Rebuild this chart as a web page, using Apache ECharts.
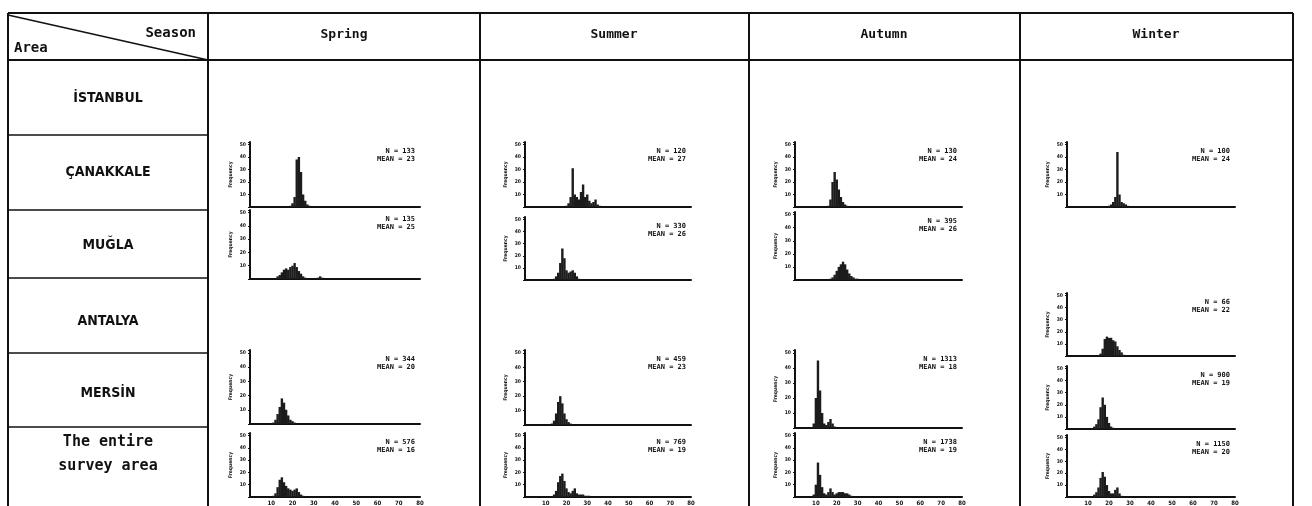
<!DOCTYPE html>
<html>
<head>
<meta charset="utf-8">
<script src="https://cdn.jsdelivr.net/npm/echarts@6/dist/echarts.min.js"></script>
<style>
  html, body { margin: 0; padding: 0; background: #fff; }
  #chart { width: 1312px; height: 506px; }
</style>
</head>
<body>
<div id="chart"></div>
<script>
// length classes (cm) shared by every histogram
const lengthBins = [8, 9, 10, 11, 12, 13, 14, 15, 16, 17, 18, 19, 20, 21, 22, 23, 24,
  25, 26, 27, 28, 29, 30, 31, 32, 33, 34, 35, 36, 37, 38, 39, 40];
const xTicks = [10, 20, 30, 40, 50, 60, 70, 80];
const yTicks = [10, 20, 30, 40, 50];

const seasons = ['Spring', 'Summer', 'Autumn', 'Winter'];
const areas = ['İSTANBUL', 'ÇANAKKALE', 'MUĞLA', 'ANTALYA', 'MERSİN', 'The entire\nsurvey area'];

// frequency (%) per length class
const springCanakkale = [0, 0, 0, 0, 0, 0, 0, 0, 0, 0, 0, 1, 3, 8, 38, 40, 28, 10, 5, 2, 1, 0, 0, 0, 0, 0, 0, 0, 0, 0, 0, 0, 0];
const springMugla = [0, 0, 0, 0, 0, 2, 3, 5, 7, 8, 7, 9, 10, 12, 9, 6, 4, 2, 1, 0, 0, 0, 0, 0, 1, 2, 1, 0, 0, 0, 0, 0, 0];
const springMersin = [0, 0, 0, 1, 3, 7, 12, 18, 15, 10, 6, 3, 2, 1, 0, 0, 0, 0, 0, 0, 0, 0, 0, 0, 0, 0, 0, 0, 0, 0, 0, 0, 0];
const springEntire = [0, 0, 0, 1, 3, 8, 14, 16, 12, 9, 7, 6, 5, 6, 7, 4, 2, 1, 0, 0, 0, 0, 0, 0, 0, 0, 0, 0, 0, 0, 0, 0, 0];

const summerCanakkale = [0, 0, 0, 0, 0, 0, 0, 0, 0, 0, 0, 0, 1, 3, 8, 31, 10, 8, 6, 12, 18, 8, 10, 5, 3, 4, 6, 2, 1, 0, 0, 0, 0];
const summerMugla = [0, 0, 0, 0, 0, 0, 1, 3, 6, 14, 26, 18, 8, 6, 7, 8, 6, 3, 1, 0, 0, 0, 0, 0, 0, 0, 0, 0, 0, 0, 0, 0, 0];
const summerMersin = [0, 0, 0, 0, 0, 1, 3, 8, 16, 20, 15, 8, 4, 2, 1, 0, 0, 0, 0, 0, 0, 0, 0, 0, 0, 0, 0, 0, 0, 0, 0, 0, 0];
const summerEntire = [0, 0, 0, 0, 0, 0, 2, 5, 12, 17, 19, 13, 7, 4, 3, 5, 7, 3, 2, 2, 2, 1, 1, 1, 0, 0, 0, 0, 0, 0, 0, 0, 0];

const autumnCanakkale = [0, 0, 0, 0, 0, 0, 0, 0, 1, 6, 20, 28, 22, 14, 8, 4, 2, 1, 0, 0, 0, 0, 0, 0, 0, 0, 0, 0, 0, 0, 0, 0, 0];
const autumnMugla = [0, 0, 0, 0, 0, 0, 0, 0, 0, 1, 2, 4, 7, 10, 12, 14, 12, 8, 5, 3, 2, 1, 1, 0, 0, 0, 0, 0, 0, 0, 0, 0, 0];
const autumnMersin = [0, 3, 20, 45, 25, 10, 3, 2, 4, 6, 3, 1, 0, 0, 0, 0, 0, 0, 0, 0, 0, 0, 0, 0, 0, 0, 0, 0, 0, 0, 0, 0, 0];
const autumnEntire = [0, 2, 10, 28, 18, 8, 3, 2, 4, 7, 4, 2, 3, 4, 4, 4, 3, 3, 2, 1, 0, 0, 0, 0, 0, 0, 0, 0, 0, 0, 0, 0, 0];

const winterCanakkale = [0, 0, 0, 0, 0, 0, 0, 0, 0, 0, 0, 0, 1, 2, 4, 8, 44, 10, 4, 3, 2, 1, 0, 0, 0, 0, 0, 0, 0, 0, 0, 0, 0];
const winterAntalya = [0, 0, 0, 0, 0, 0, 0, 0, 2, 6, 14, 16, 15, 15, 13, 12, 8, 5, 3, 1, 0, 0, 0, 0, 0, 0, 0, 0, 0, 0, 0, 0, 0];
const winterMersin = [0, 0, 0, 0, 0, 2, 4, 8, 18, 26, 20, 10, 5, 2, 1, 0, 0, 0, 0, 0, 0, 0, 0, 0, 0, 0, 0, 0, 0, 0, 0, 0, 0];
const winterEntire = [0, 0, 0, 0, 0, 2, 4, 8, 16, 21, 17, 10, 5, 3, 3, 6, 8, 3, 1, 0, 0, 0, 0, 0, 0, 0, 0, 0, 0, 0, 0, 0, 0];

// sample size and mean length printed in each panel
const sampleN = [133, 135, 344, 576, 120, 330, 459, 769, 130, 395, 1313, 1738, 100, 66, 900, 1150];
const sampleMean = [23, 25, 20, 16, 27, 26, 23, 19, 24, 26, 18, 19, 24, 22, 19, 20];

const chart = echarts.init(document.getElementById('chart'), null, { renderer: 'canvas' });

// panel layout: column (season), plot box and whether x labels are shown
const colX = [250, 525, 795, 1067];
const colW = [170, 166, 167, 168];
const panels = [
  { col: 0, top: 142, bottom: 207, data: springCanakkale },
  { col: 0, top: 210, bottom: 279, data: springMugla },
  { col: 0, top: 350, bottom: 424, data: springMersin },
  { col: 0, top: 433, bottom: 497, data: springEntire, xLabels: true },
  { col: 1, top: 142, bottom: 207, data: summerCanakkale },
  { col: 1, top: 217, bottom: 280, data: summerMugla },
  { col: 1, top: 350, bottom: 425, data: summerMersin },
  { col: 1, top: 433, bottom: 498, data: summerEntire, xLabels: true },
  { col: 2, top: 142, bottom: 207, data: autumnCanakkale },
  { col: 2, top: 212, bottom: 280, data: autumnMugla },
  { col: 2, top: 350, bottom: 428, data: autumnMersin },
  { col: 2, top: 433, bottom: 498, data: autumnEntire, xLabels: true },
  { col: 3, top: 142, bottom: 207, data: winterCanakkale },
  { col: 3, top: 293, bottom: 356, data: winterAntalya },
  { col: 3, top: 366, bottom: 429, data: winterMersin },
  { col: 3, top: 435, bottom: 498, data: winterEntire, xLabels: true },
];

const ink = '#111';
const tinyFont = 'DejaVu Sans Condensed';

const grids = [];
const xAxes = [];
const yAxes = [];
const series = [];
const graphics = [];

panels.forEach((p, i) => {
  const left = colX[p.col];
  const width = colW[p.col];
  grids.push({ left, top: p.top, width, height: p.bottom - p.top });
  xAxes.push({
    gridIndex: i,
    type: 'value',
    min: 0,
    max: 80,
    interval: 10,
    axisLine: { lineStyle: { color: ink, width: 2 } },
    axisTick: { show: false },
    splitLine: { show: false },
    axisLabel: {
      show: !!p.xLabels,
      color: ink,
      fontSize: 6,
      fontWeight: 'bold',
      fontFamily: tinyFont,
      margin: 3,
      formatter: (v) => (xTicks.includes(v) ? v : ''),
    },
  });
  yAxes.push({
    gridIndex: i,
    type: 'value',
    min: 0,
    max: 52,
    interval: 10,
    name: 'Frequency',
    nameLocation: 'middle',
    nameGap: 17,
    nameRotate: 90,
    nameTextStyle: { fontSize: 5, color: ink, fontFamily: tinyFont, fontWeight: 'bold' },
    axisLine: { show: true, lineStyle: { color: ink, width: 2 } },
    axisTick: { show: true, length: 2, lineStyle: { color: ink } },
    splitLine: { show: false },
    axisLabel: {
      color: ink,
      fontSize: 5,
      fontWeight: 'bold',
      fontFamily: tinyFont,
      margin: 4,
      formatter: (v) => (yTicks.includes(v) ? v : ''),
    },
  });
  series.push({
    type: 'bar',
    xAxisIndex: i,
    yAxisIndex: i,
    barWidth: 2.4,
    silent: true,
    itemStyle: { color: '#1c1c1c' },
    data: lengthBins.map((l, k) => [l, p.data[k]]),
  });
  graphics.push({
    type: 'text',
    x: left + width - 5,
    y: p.top + 5,
    style: {
      text: 'N = ' + sampleN[i] + '\nMEAN = ' + sampleMean[i],
      fill: ink,
      font: 'bold 7px "DejaVu Sans Mono"',
      align: 'right',
      lineHeight: 8,
    },
  });
});

// table frame
const tableLine = (x1, y1, x2, y2, w) => ({
  type: 'line',
  shape: { x1, y1, x2, y2 },
  style: { stroke: ink, lineWidth: w || 2 },
  silent: true,
});
const colLines = [8, 208, 480, 749, 1020, 1293];
colLines.forEach((x) => graphics.push(tableLine(x, 13, x, 506)));
graphics.push(tableLine(8, 13, 1293, 13));
graphics.push(tableLine(8, 60, 1293, 60));
[135, 210, 278, 353, 427].forEach((y) => graphics.push(tableLine(8, y, 208, y, 1.5)));
graphics.push(tableLine(8, 15, 208, 60, 1.5));

// header texts
graphics.push({
  type: 'text', x: 196, y: 33,
  style: { text: 'Season', fill: ink, font: 'bold 14px "DejaVu Sans Mono"', align: 'right', verticalAlign: 'middle' },
});
graphics.push({
  type: 'text', x: 14, y: 48,
  style: { text: 'Area', fill: ink, font: 'bold 14px "DejaVu Sans Mono"', align: 'left', verticalAlign: 'middle' },
});
const headerCenters = [344, 614, 884, 1156];
seasons.forEach((s, i) => {
  graphics.push({
    type: 'text', x: headerCenters[i], y: 35,
    style: { text: s, fill: ink, font: 'bold 13px "DejaVu Sans Mono"', align: 'center', verticalAlign: 'middle' },
  });
});
const areaCenters = [98, 172, 245, 321, 393, 454];
areas.forEach((a, i) => {
  const last = i === areas.length - 1;
  graphics.push({
    type: 'text', x: 108, y: areaCenters[i],
    style: {
      text: a,
      fill: ink,
      font: last ? 'bold 15px "DejaVu Sans Mono"' : 'bold 14px "DejaVu Sans Condensed"',
      align: 'center',
      verticalAlign: 'middle',
      lineHeight: 24,
    },
  });
});

chart.setOption({
  animation: false,
  backgroundColor: '#fff',
  grid: grids,
  xAxis: xAxes,
  yAxis: yAxes,
  series,
  graphic: graphics,
});
</script>
</body>
</html>
